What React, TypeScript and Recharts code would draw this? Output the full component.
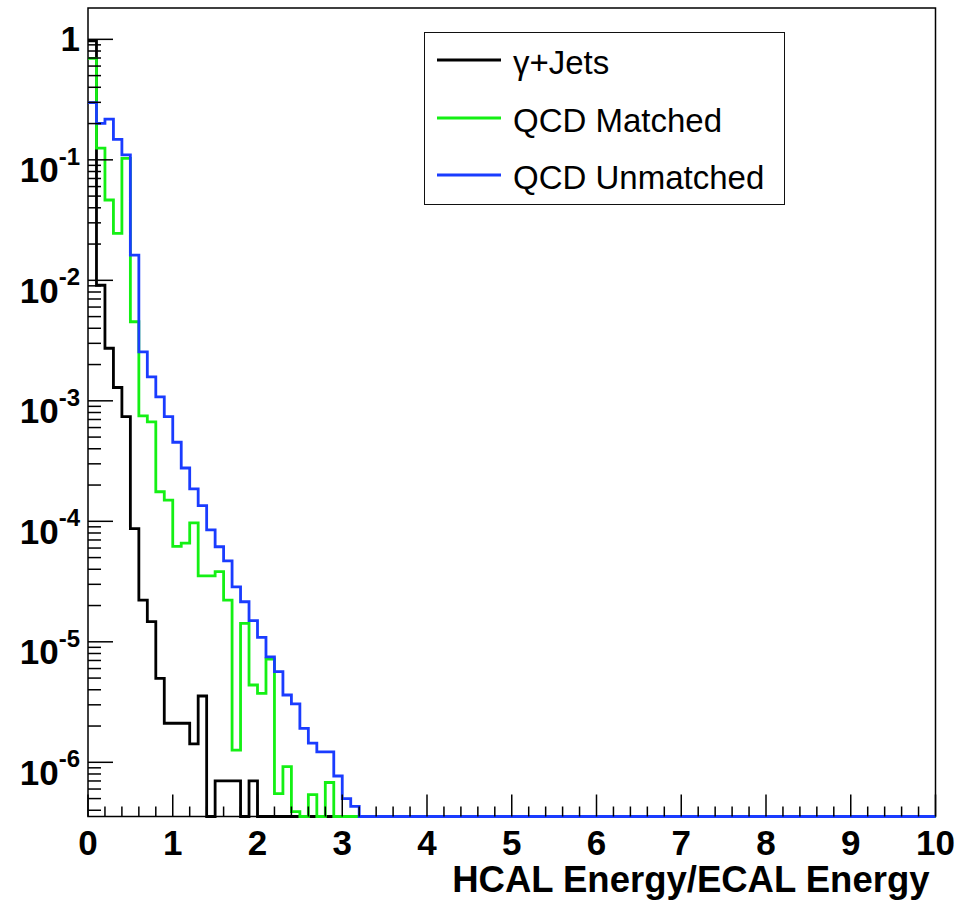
import {
  Label,
  Legend,
  Line,
  LineChart,
  ReferenceArea,
  XAxis,
  YAxis,
} from 'recharts';

const FONT = '"Liberation Sans", Arial, Helvetica, sans-serif';

const X_MIN = 0;
const X_MAX = 10;
const N_BINS = 100;

// log frame, empty bins sit on its floor
const Y_MIN = 3.55e-7;
const Y_MAX = 1.82;

// bin contents, 0.1 wide bins from 0 to 10
const GAMMA_JETS = [
  0.97, 9.1e-3, 2.73e-3, 1.29e-3, 7.4e-4, 8.7e-5, 2.22e-5, 1.47e-5, 4.98e-6, 2.11e-6,
  2.11e-6, 2.11e-6, 1.42e-6, 3.55e-6, 0, 7.0e-7, 7.0e-7, 7.0e-7, 0, 7.0e-7,
  0, 0, 0, 0, 0, 0, 0, 0, 0, 0,
  0, 0, 0, 0, 0, 0, 0, 0, 0, 0,
  0, 0, 0, 0, 0, 0, 0, 0, 0, 0,
  0, 0, 0, 0, 0, 0, 0, 0, 0, 0,
  0, 0, 0, 0, 0, 0, 0, 0, 0, 0,
  0, 0, 0, 0, 0, 0, 0, 0, 0, 0,
  0, 0, 0, 0, 0, 0, 0, 0, 0, 0,
  0, 0, 0, 0, 0, 0, 0, 0, 0, 0,
];

const QCD_MATCHED = [
  0.696, 0.125, 0.0464, 0.0245, 0.103, 4.53e-3, 7.5e-4, 6.7e-4, 1.76e-4, 1.5e-4,
  6.2e-5, 6.6e-5, 9.7e-5, 3.52e-5, 3.52e-5, 3.82e-5, 2.22e-5, 1.26e-6, 1.42e-5, 4.38e-6,
  3.74e-6, 7.2e-6, 5.5e-7, 9.2e-7, 3.9e-7, 0, 5.4e-7, 0, 6.8e-7, 0,
  0, 0, 0, 0, 0, 0, 0, 0, 0, 0,
  0, 0, 0, 0, 0, 0, 0, 0, 0, 0,
  0, 0, 0, 0, 0, 0, 0, 0, 0, 0,
  0, 0, 0, 0, 0, 0, 0, 0, 0, 0,
  0, 0, 0, 0, 0, 0, 0, 0, 0, 0,
  0, 0, 0, 0, 0, 0, 0, 0, 0, 0,
  0, 0, 0, 0, 0, 0, 0, 0, 0, 0,
];

const QCD_UNMATCHED = [
  0.298, 0.201, 0.218, 0.148, 0.11, 0.0162, 2.55e-3, 1.58e-3, 1.08e-3, 7.4e-4,
  4.53e-4, 2.77e-4, 1.86e-4, 1.35e-4, 8.5e-5, 6.15e-5, 4.69e-5, 2.86e-5, 2.15e-5, 1.5e-5,
  1.09e-5, 7.5e-6, 5.65e-6, 3.62e-6, 3.05e-6, 1.91e-6, 1.44e-6, 1.22e-6, 1.22e-6, 7.7e-7,
  5.0e-7, 4.3e-7, 0, 0, 0, 0, 0, 0, 0, 0,
  0, 0, 0, 0, 0, 0, 0, 0, 0, 0,
  0, 0, 0, 0, 0, 0, 0, 0, 0, 0,
  0, 0, 0, 0, 0, 0, 0, 0, 0, 0,
  0, 0, 0, 0, 0, 0, 0, 0, 0, 0,
  0, 0, 0, 0, 0, 0, 0, 0, 0, 0,
  0, 0, 0, 0, 0, 0, 0, 0, 0, 0,
];

const SERIES = [
  { key: 'gamma_jets', name: 'γ+Jets', color: '#000000', values: GAMMA_JETS },
  { key: 'qcd_matched', name: 'QCD Matched', color: '#14f014', values: QCD_MATCHED },
  { key: 'qcd_unmatched', name: 'QCD Unmatched', color: '#1a3cff', values: QCD_UNMATCHED },
];

const X_LABELS = ['0', '1', '2', '3', '4', '5', '6', '7', '8', '9', '10'];
const X_TITLE = 'HCAL Energy/ECAL Energy';

function bin_edge(i: number): number {
  return Math.round((X_MIN + (i * (X_MAX - X_MIN)) / N_BINS) * 1000) / 1000;
}

// stepAfter needs one extra point on the right edge to close the last bin
const rows = Array.from({ length: N_BINS + 1 }, (_, i) => {
  const bin = Math.min(i, N_BINS - 1);
  const row: Record<string, number> = { x: bin_edge(i) };
  for (const s of SERIES) {
    const v = s.values[bin];
    row[s.key] = v > 0 ? v : Y_MIN;
  }
  return row;
});

// x ticks every 0.2, labels on the integers
const X_TICKS = Array.from({ length: 51 }, (_, i) => Math.round(i * 2) / 10);

// decade ticks plus 2..9 minors inside the frame
const Y_TICKS: number[] = [];
for (let e = -7; e <= 0; e++) {
  for (let m = 1; m <= 9; m++) {
    const v = Number((m * Math.pow(10, e)).toPrecision(6));
    if (v >= Y_MIN && v <= Y_MAX) Y_TICKS.push(v);
  }
}

function XTick(props: any) {
  const { x, y, payload } = props;
  const v: number = payload.value;
  const idx = X_LABELS.indexOf(String(v));
  const major = idx >= 0;
  return (
    <g>
      <line x1={x} y1={y} x2={x} y2={y - (major ? 22 : 10)} stroke="#000" strokeWidth={1.5} />
      {major && (
        <text
          x={x}
          y={y + 38.5}
          textAnchor="middle"
          fontFamily={FONT}
          fontWeight="bold"
          fontSize={35}
          fill="#000"
        >
          {X_LABELS[idx]}
        </text>
      )}
    </g>
  );
}

function YTick(props: any) {
  const { x, y, payload } = props;
  const v: number = payload.value;
  const exp = Math.round(Math.log10(v));
  const major = Math.abs(Math.log10(v) - exp) < 1e-6;
  return (
    <g>
      <line x1={x} y1={y} x2={x + (major ? 25 : 13)} y2={y} stroke="#000" strokeWidth={1.5} />
      {major && exp === 0 && (
        <text x={x - 8} y={y + 12} textAnchor="end" fontFamily={FONT} fontWeight="bold" fontSize={35} fill="#000">
          1
        </text>
      )}
      {major && exp !== 0 && (
        <text x={x - 8} y={y + 22.5} textAnchor="end" fontFamily={FONT} fontWeight="bold" fontSize={35} fill="#000">
          <tspan>10</tspan>
          <tspan fontSize={24} dy={-17.5}>{`${exp}`}</tspan>
        </text>
      )}
    </g>
  );
}

function LegendBox({ payload }: { payload?: any[] }) {
  const items = (payload ?? []).slice().sort(
    (a, b) => SERIES.findIndex((s) => s.name === a.value) - SERIES.findIndex((s) => s.name === b.value),
  );
  return (
    <div
      style={{
        boxSizing: 'border-box',
        width: 361,
        height: 173,
        border: '1.5px solid #111',
        background: '#fff',
        position: 'relative',
        fontFamily: FONT,
      }}
    >
      {items.map((p, i) => (
        <div
          key={p.value}
          style={{
            position: 'absolute',
            left: 12,
            top: 27 + i * 57.5 - 20,
            height: 40,
            display: 'flex',
            alignItems: 'center',
          }}
        >
          <svg width={64} height={4} style={{ display: 'block' }}>
            <line x1={0} y1={2} x2={64} y2={2} stroke={p.color} strokeWidth={3} />
          </svg>
          <span
            style={{
              marginLeft: 12,
              fontSize: 33,
              color: '#000',
              lineHeight: '40px',
              whiteSpace: 'nowrap',
              position: 'relative',
              top: 3,
            }}
          >
            {p.value}
          </span>
        </div>
      ))}
    </div>
  );
}

export default function App() {
  return (
    <div style={{ position: 'absolute', left: 0, top: 0, width: 972, height: 903, background: '#fff' }}>
      <LineChart
        width={972}
        height={903}
        data={rows}
        margin={{ top: 8, right: 36.5, bottom: 0, left: 0 }}
      >
        <XAxis
          dataKey="x"
          type="number"
          domain={[X_MIN, X_MAX]}
          ticks={X_TICKS}
          interval={0}
          height={86.5}
          tickSize={0}
          tickMargin={0}
          tickLine={false}
          axisLine={false}
          tick={<XTick />}
        >
          <Label
            content={(lp: any) => {
              const vb = lp.viewBox;
              return (
                <text
                  x={vb.x + vb.width - 6}
                  y={vb.y + 75.5}
                  textAnchor="end"
                  fontFamily={FONT}
                  fontWeight="bold"
                  fontSize={36.5}
                  fill="#000"
                >
                  {X_TITLE}
                </text>
              );
            }}
          />
        </XAxis>
        <YAxis
          type="number"
          scale="log"
          domain={[Y_MIN, Y_MAX]}
          ticks={Y_TICKS}
          interval={0}
          width={88}
          tickSize={0}
          tickMargin={0}
          tickLine={false}
          axisLine={false}
          tick={<YTick />}
        />
        <ReferenceArea
          x1={X_MIN}
          x2={X_MAX}
          y1={Y_MIN}
          y2={Y_MAX}
          fill="none"
          stroke="#000"
          strokeWidth={1.5}
        />
        {SERIES.map((s) => (
          <Line
            key={s.key}
            type="stepAfter"
            dataKey={s.key}
            name={s.name}
            stroke={s.color}
            strokeWidth={2.8}
            dot={false}
            activeDot={false}
            isAnimationActive={false}
          />
        ))}
        <Legend
          layout="horizontal"
          verticalAlign="middle"
          align="center"
          wrapperStyle={{ position: 'absolute', left: 424, top: 32, width: 361, height: 173 }}
          content={(props: any) => <LegendBox payload={props.payload} />}
        />
      </LineChart>
    </div>
  );
}
